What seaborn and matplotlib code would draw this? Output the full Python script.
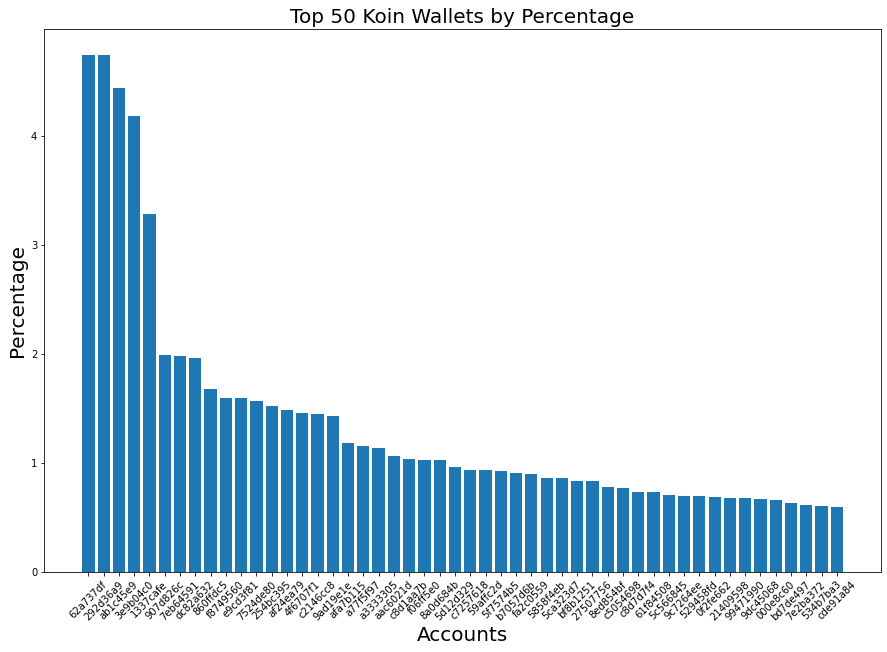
import matplotlib
matplotlib.use('Agg')
import matplotlib.pyplot as plt
import pandas as pd
import seaborn as sns

# 지갑 주소 (앞 8자리)
accounts = [
    '62a737df', '292d36a9', 'ab1c45e9', '3e9b04c0', '1337cafe',
    '907d826c', '7eb64591', 'dc82a632', '860ffdc5', 'f8749560',
    'e9cd3f81', '7524de80', '254bc395', 'af24ea79', '4f6707f1',
    'c2146cc8', '9ad19e1e', 'afa7b115', 'a77f5f97', 'a3333305',
    'aac6021d', 'c8d1aa7b', 'f06ff5e0', '8a0d684b', '5d12d329',
    'c7257618', '59affc2d', '5f7574b5', 'b7057d6b', 'fa2c0559',
    '5858f4eb', '5ca323d7', 'bf8b1251', '27507756', '8ed854bf',
    'c5054698', 'c8d7d7f4', '61f84508', '5c566845', '9c7264ee',
    '529458fd', '0f2fe662', '21409598', '99471990', '9dc45068',
    '000e8c60', 'bd7de497', '7e2ba372', '534b7ba3', 'cde91a84',
]

percentages = [
    4.75, 4.75, 4.44, 4.19, 3.29,
    1.995, 1.986, 1.968, 1.683, 1.601,
    1.601, 1.572, 1.527, 1.49, 1.462,
    1.453, 1.434, 1.186, 1.159, 1.14,
    1.067, 1.04, 1.03, 1.03, 0.966,
    0.939, 0.939, 0.93, 0.91, 0.902,
    0.865, 0.865, 0.838, 0.838, 0.783,
    0.774, 0.737, 0.737, 0.71, 0.70,
    0.70, 0.69, 0.682, 0.682, 0.673,
    0.664, 0.636, 0.618, 0.609, 0.60,
]

df = pd.DataFrame({'Accounts': accounts, 'Percentage': percentages})

fig = plt.figure(figsize=(887 / 72, 652 / 72), dpi=72)
ax = fig.add_axes([0.0499, 0.1222, 0.9433, 0.8337])

sns.barplot(data=df, x='Accounts', y='Percentage', color='#1f77b4',
            saturation=1, width=0.8, linewidth=0, ax=ax)

# matplotlib 기본 여백처럼 맞추기
n = len(accounts)
pad = 0.05 * (n - 1 + 0.8) + 0.4
ax.set_xlim(-pad, n - 1 + pad)
ax.set_ylim(0, max(percentages) * 1.05)

ax.tick_params(axis='x', labelrotation=45, labelsize=10)
ax.tick_params(axis='y', labelsize=10)
ax.set_xlabel('Accounts', fontsize=20)
ax.set_ylabel('Percentage', fontsize=20)
ax.set_title('Top 50 Koin Wallets by Percentage', fontsize=20)

fig.savefig('out.png', dpi=72)
